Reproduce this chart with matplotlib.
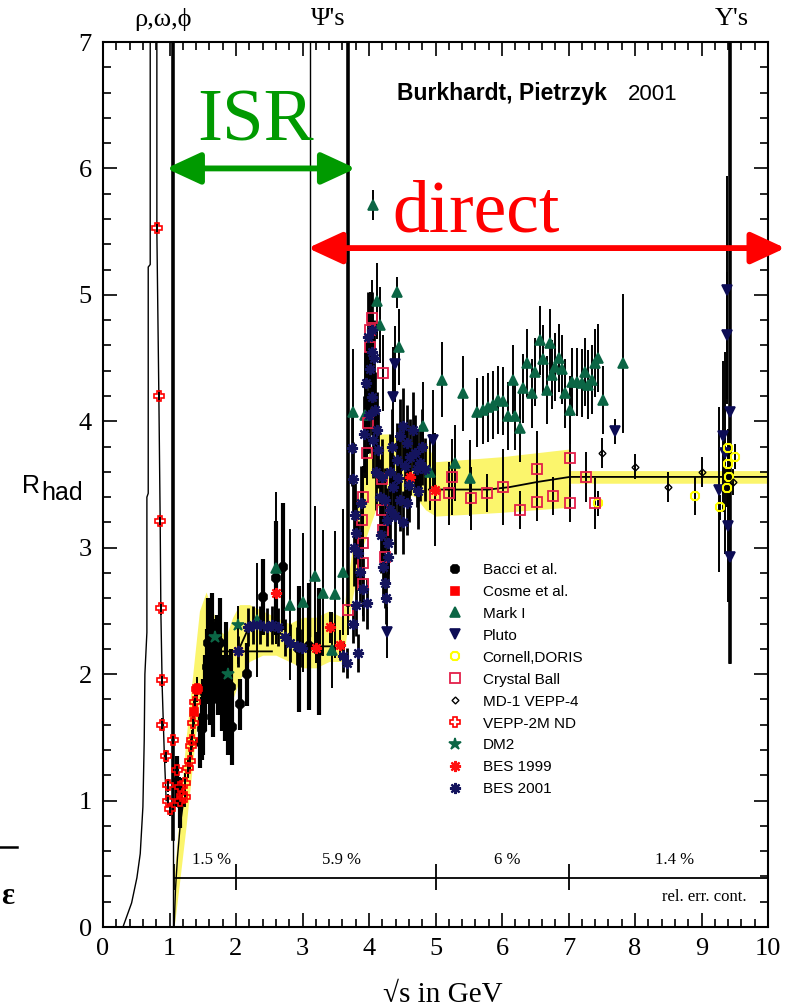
import matplotlib
matplotlib.use("Agg")
import matplotlib.pyplot as plt
import numpy as np
from matplotlib.lines import Line2D
from matplotlib.patches import FancyArrowPatch

SERIF = ['Liberation Serif', 'DejaVu Serif']
SANS = ['Liberation Sans', 'DejaVu Sans']

# measurements: (sqrt(s) in GeV, R_had, error)
bacci = [(1.11, 1.15, 0.2), (1.16, 0.98, 0.2), (1.46, 1.46, 0.2), (1.49, 1.57, 0.25),
         (1.50, 1.66, 0.3), (1.53, 1.85, 0.3), (1.56, 2.06, 0.3), (1.58, 2.25, 0.35),
         (1.61, 1.90, 0.3), (1.64, 2.29, 0.35), (1.66, 1.80, 0.3), (1.69, 2.11, 0.3),
         (1.71, 2.17, 0.3), (1.73, 1.98, 0.3), (1.76, 2.25, 0.35), (1.79, 1.85, 0.3),
         (1.83, 1.77, 0.3), (1.85, 2.06, 0.35), (1.88, 1.66, 0.3), (1.92, 1.90, 0.3),
         (1.94, 1.58, 0.3), (2.06, 1.76, 0.2), (2.16, 2.00, 0.25), (2.41, 2.61, 0.3),
         (2.60, 2.76, 0.45), (2.71, 2.85, 0.5), (2.95, 2.20, 0.5), (3.10, 2.22, 0.5),
         (3.25, 2.18, 0.5)]
cosme = [(1.37, 1.70, 0.1), (1.42, 1.88, 0.1)]
mark1 = [(2.31, 2.43, 0.45), (2.60, 2.84, 0.6), (2.81, 2.55, 0.6), (3.01, 2.57, 0.55),
         (3.19, 2.78, 0.55), (3.31, 2.64, 0.5), (3.44, 2.19, 0.3), (3.49, 2.63, 0.5),
         (3.61, 2.81, 0.5), (3.76, 4.07, 0.5), (3.94, 4.05, 0.5), (4.06, 5.71, 0.12),
         (4.12, 4.95, 0.3), (4.17, 4.76, 0.3), (4.42, 5.02, 0.12), (4.45, 4.59, 0.3),
         (4.81, 3.96, 0.35), (4.92, 3.60, 0.3), (5.10, 4.33, 0.3), (5.29, 3.67, 0.3),
         (5.41, 4.22, 0.3), (5.52, 3.55, 0.3), (5.62, 4.07, 0.27), (5.72, 4.09, 0.27),
         (5.79, 4.11, 0.27), (5.87, 4.13, 0.27), (5.94, 4.17, 0.27), (6.02, 4.16, 0.27),
         (6.09, 4.04, 0.27), (6.17, 4.33, 0.27), (6.20, 4.04, 0.27), (6.27, 3.95, 0.27),
         (6.32, 4.26, 0.27), (6.38, 4.46, 0.27), (6.45, 4.22, 0.27), (6.50, 4.39, 0.27),
         (6.57, 4.64, 0.27), (6.62, 4.49, 0.27), (6.68, 4.25, 0.27), (6.72, 4.62, 0.27),
         (6.75, 4.37, 0.27), (6.80, 4.43, 0.27), (6.85, 4.50, 0.27), (6.90, 4.41, 0.27),
         (6.95, 4.22, 0.27), (7.02, 4.09, 0.27), (7.05, 4.31, 0.27), (7.13, 4.31, 0.27),
         (7.20, 4.30, 0.27), (7.25, 4.39, 0.27), (7.29, 4.29, 0.27), (7.35, 4.33, 0.27),
         (7.40, 4.46, 0.27), (7.44, 4.50, 0.27), (7.52, 4.17, 0.27), (7.82, 4.46, 0.55)]
pluto = [(4.27, 2.33, 0.2), (4.36, 4.19, 0.4), (4.39, 4.45, 0.3), (4.96, 3.85, 0.4),
         (7.70, 3.92, 0.1), (9.26, 3.46, 0.65), (9.32, 3.88, 0.6), (9.36, 3.75, 0.8),
         (9.38, 5.04, 0.9), (9.38, 4.68, 0.5), (9.40, 3.17, 0.6), (9.43, 4.07, 0.5),
         (9.43, 2.93, 0.85)]
cornell = [(7.44, 3.35, 0.1), (8.90, 3.41, 0.15), (9.28, 3.32, 0.1), (9.38, 3.47, 0.15),
           (9.40, 3.79, 0.15), (9.40, 3.66, 0.1), (9.41, 3.56, 0.1), (9.50, 3.72, 0.1)]
crystal = [(3.68, 2.51, 0.2), (3.89, 3.22, 0.25), (3.91, 3.04, 0.25), (3.91, 2.88, 0.25),
           (3.91, 2.71, 0.25), (3.91, 3.40, 0.25), (3.97, 3.75, 0.25), (3.98, 3.99, 0.25),
           (4.02, 4.59, 0.3), (4.02, 4.72, 0.3), (4.04, 4.82, 0.3), (4.19, 3.54, 0.25),
           (4.19, 3.30, 0.25), (4.21, 3.14, 0.25), (4.21, 4.38, 0.3), (4.24, 2.93, 0.25),
           (4.99, 3.42, 0.2), (5.20, 3.43, 0.25), (5.25, 3.56, 0.3), (5.53, 3.39, 0.25),
           (5.77, 3.43, 0.15), (6.02, 3.48, 0.3), (6.27, 3.30, 0.15), (6.53, 3.62, 0.3),
           (6.53, 3.36, 0.15), (6.77, 3.41, 0.15), (7.02, 3.71, 0.3), (7.02, 3.35, 0.15),
           (7.26, 3.56, 0.2), (7.40, 3.35, 0.2)]
md1 = [(7.50, 3.75, 0.12), (8.00, 3.64, 0.1), (8.50, 3.48, 0.12), (9.00, 3.60, 0.12),
       (9.47, 3.52, 0.1)]
vepp2m = [(0.81, 5.53, 0.05), (0.84, 4.20, 0.05), (0.85, 3.21, 0.05), (0.87, 2.52, 0.05),
          (0.89, 1.95, 0.05), (0.89, 1.60, 0.05), (0.95, 1.35, 0.05), (0.97, 1.12, 0.05),
          (0.97, 1.00, 0.05), (1.00, 0.93, 0.05), (1.05, 1.48, 0.05), (1.11, 1.24, 0.08),
          (1.16, 1.11, 0.08), (1.16, 1.00, 0.08), (1.19, 1.04, 0.08), (1.23, 1.14, 0.08),
          (1.23, 1.03, 0.08), (1.28, 1.26, 0.08), (1.31, 1.31, 0.08), (1.32, 1.43, 0.08),
          (1.34, 1.48, 0.08), (1.35, 1.61, 0.08), (1.38, 1.78, 0.08), (1.41, 1.88, 0.08)]
dm2 = [(1.69, 2.29, 0.15), (1.88, 2.00, 0.15), (2.03, 2.39, 0.15)]
bes99 = [(2.03, 2.18, 0.1), (2.60, 2.64, 0.15), (3.21, 2.21, 0.12), (3.41, 2.37, 0.12),
         (3.56, 2.23, 0.12), (4.62, 3.56, 0.15), (4.99, 3.46, 0.45)]
bes01 = [(2.03, 2.18, 0.12), (2.18, 2.37, 0.15), (2.26, 2.39, 0.15), (2.36, 2.39, 0.15),
         (2.46, 2.37, 0.15), (2.54, 2.39, 0.15), (2.63, 2.37, 0.15), (2.74, 2.29, 0.15),
         (2.81, 2.25, 0.15), (2.91, 2.22, 0.15), (2.99, 2.21, 0.15), (3.61, 2.14, 0.12),
         (3.67, 2.09, 0.12), (3.74, 3.79, 0.3), (3.76, 3.54, 0.3), (3.76, 2.40, 0.15),
         (3.78, 3.00, 0.3), (3.79, 3.26, 0.25), (3.80, 2.55, 0.25), (3.81, 3.12, 0.25),
         (3.84, 2.96, 0.25), (3.84, 2.17, 0.15), (3.86, 2.81, 0.25), (3.88, 3.35, 0.3),
         (3.91, 2.67, 0.25), (3.93, 3.90, 0.3), (3.95, 4.30, 0.35), (3.97, 2.56, 0.2),
         (3.98, 4.67, 0.35), (4.00, 4.05, 0.3), (4.02, 4.41, 0.3), (4.04, 4.19, 0.3),
         (4.04, 4.55, 0.3), (4.04, 4.72, 0.3), (4.06, 3.85, 0.3), (4.08, 4.50, 0.3),
         (4.09, 4.09, 0.3), (4.10, 3.60, 0.3), (4.12, 3.93, 0.3), (4.14, 3.77, 0.3),
         (4.16, 3.40, 0.3), (4.18, 3.10, 0.3), (4.19, 3.56, 0.3), (4.21, 2.85, 0.25),
         (4.24, 3.38, 0.25), (4.24, 2.72, 0.2), (4.26, 2.60, 0.2), (4.27, 3.22, 0.25),
         (4.29, 3.04, 0.25), (4.29, 2.93, 0.2), (4.31, 3.60, 0.3), (4.32, 3.30, 0.25),
         (4.34, 3.80, 0.3), (4.36, 3.48, 0.25), (4.39, 3.25, 0.3), (4.42, 3.69, 0.3),
         (4.44, 3.55, 0.3), (4.47, 3.88, 0.3), (4.47, 3.38, 0.25), (4.51, 3.96, 0.3),
         (4.51, 3.20, 0.25), (4.54, 3.65, 0.3), (4.57, 3.83, 0.3), (4.57, 3.35, 0.25),
         (4.60, 3.50, 0.3), (4.62, 3.72, 0.3), (4.66, 3.93, 0.3), (4.69, 3.75, 0.3),
         (4.72, 3.62, 0.3), (4.74, 3.45, 0.3), (4.77, 3.67, 0.3), (4.80, 3.80, 0.3),
         (4.84, 3.62, 0.25)]

# continuum parametrisation with its error band
band_x = [1.07, 1.15, 1.25, 1.35, 1.45, 1.55, 1.65, 1.75, 1.85, 1.95, 2.05, 2.2, 2.4,
          2.6, 2.8, 3.0, 3.2, 3.4, 3.6, 3.75, 3.9, 4.1, 4.3, 4.5, 4.7, 4.85, 5.0, 6.0,
          7.0, 7.01, 8.0, 9.0, 10.0]
band_lo = [0.0, 0.35, 0.8, 1.3, 1.8, 1.95, 1.85, 1.75, 1.75, 1.8, 1.95, 2.1, 2.15,
           2.15, 2.1, 2.05, 2.05, 2.1, 2.1, 2.6, 3.0, 3.3, 3.4, 3.45, 3.4, 3.3, 3.25,
           3.28, 3.32, 3.51, 3.51, 3.51, 3.51]
band_hi = [0.4, 0.9, 1.5, 2.0, 2.5, 2.65, 2.5, 2.35, 2.3, 2.45, 2.55, 2.55, 2.5,
           2.45, 2.4, 2.45, 2.45, 2.5, 2.45, 3.0, 3.6, 3.9, 3.9, 3.85, 3.85, 3.85, 3.68,
           3.72, 3.78, 3.61, 3.61, 3.61, 3.61]
cont_x = [1.79, 2.54, np.nan, 2.03, 2.21, 2.55, 2.80, 3.00, 3.60, np.nan,
          4.90, 5.80, 6.12, 6.53, 7.02, 10.0]
cont_y = [2.18, 2.18, np.nan, 2.18, 2.39, 2.39, 2.25, 2.22, 2.22, np.nan,
          3.46, 3.46, 3.48, 3.52, 3.56, 3.56]

# resonance shapes at low energy
rho_x = [0.30, 0.43, 0.51, 0.56, 0.60, 0.62, 0.63, 0.66, 0.66, 0.68, 0.68, 0.71, 0.71]
rho_y = [0.0, 0.19, 0.39, 0.58, 0.95, 1.48, 2.0, 2.33, 3.4, 3.43, 5.22, 5.24, 7.0]
omega_x = [0.81, 0.81, 0.84, 0.86, 0.87, 0.89, 0.92, 0.95]
omega_y = [7.0, 5.5, 4.2, 3.2, 2.5, 1.9, 1.4, 1.0]
phi_x = [1.07, 1.09, 1.12, 1.16, 1.20]
phi_y = [0.0, 0.3, 0.55, 0.8, 0.95]

# narrow resonances: (position, lower end, upper end)
thick_lines = [(1.05, 0.70, 7.0), (3.68, 2.55, 7.0), (9.43, 2.10, 7.0)]
thin_lines = [(1.05, 0.0, 0.70), (3.11, 2.30, 7.0)]

# relative error of the continuum per energy range
relerr_edges = [1.07, 2.0, 5.0, 7.0]
relerr_labels = ['1.5 %', '5.9 %', '6 %', '1.4 %']
relerr_label_x = [1.64, 3.59, 6.08, 8.60]

fig = plt.figure(figsize=(7.86, 10.08), dpi=100)
ax = fig.add_axes([103 / 786, 81 / 1008, 665 / 786, 885 / 1008])
ax.set_xlim(0, 10)
ax.set_ylim(0, 7)

ax.fill_between(band_x, band_lo, band_hi, color='#fbf56c', lw=0, zorder=1)
ax.plot(cont_x, cont_y, color='black', lw=1.3, zorder=2)
for cx, cy in [(rho_x, rho_y), (omega_x, omega_y), (phi_x, phi_y)]:
    ax.plot(cx, cy, color='black', lw=1.0, zorder=2)
for xr, y0, y1 in thick_lines:
    ax.plot([xr, xr], [y0, y1], color='black', lw=2.6, zorder=2)
for xr, y0, y1 in thin_lines:
    ax.plot([xr, xr], [y0, y1], color='black', lw=1.0, zorder=2)


def plot_set(data, marker, color, ms, filled=True, elw=1.4, mew=1.2):
    x, y, e = np.array(data).T
    ax.errorbar(x, y, yerr=e, fmt='none', ecolor='black', elinewidth=elw,
                capsize=0, zorder=3)
    ax.plot(x, y, ls='none', marker=marker, ms=ms, mec=color, mew=mew,
            mfc=color if filled else 'none', zorder=4)
    return Line2D([], [], ls='none', marker=marker, ms=ms, mec=color, mew=mew,
                  mfc=color if filled else 'none')


asterisk = (8, 2, 0)
handles = [
    plot_set(bacci, '8', 'black', 7, elw=3.0),
    plot_set(cosme, 's', '#ff0000', 6),
    plot_set(mark1, '^', '#0b6645', 7),
    plot_set(pluto, 'v', '#0c0c55', 7),
    plot_set(cornell, '8', '#ffff00', 7, filled=False, mew=1.5),
    plot_set(crystal, 's', '#e3204a', 7, filled=False, mew=1.3),
    plot_set(md1, 'D', 'black', 3.5, filled=False, mew=1.0),
    plot_set(vepp2m, 'P', '#ff0000', 7, filled=False, mew=1.2),
    plot_set(dm2, '*', '#0b6645', 9),
    plot_set(bes99, asterisk, '#ff1010', 8, mew=1.6),
    plot_set(bes01, asterisk, '#14145e', 8, elw=2.0, mew=1.6),
]
labels = ['Bacci et al.', 'Cosme et al.', 'Mark I', 'Pluto', 'Cornell,DORIS',
          'Crystal Ball', 'MD-1 VEPP-4', 'VEPP-2M ND', 'DM2', 'BES 1999', 'BES 2001']
ax.legend(handles, labels, loc='upper left', bbox_to_anchor=(0.495, 0.42),
          frameon=False, borderpad=0, handlelength=2.0, handletextpad=0.8,
          labelspacing=0.52, prop={'family': SANS, 'size': 11})

# relative error line at the bottom
ax.hlines(0.39, relerr_edges[0], 10, color='black', lw=1.3, zorder=2)
ax.vlines(relerr_edges, 0.29, 0.50, color='black', lw=1.3, zorder=2)
for lx, lab in zip(relerr_label_x, relerr_labels):
    ax.text(lx, 0.53, lab, ha='center', va='center', fontsize=12, family=SERIF)
ax.text(9.68, 0.24, 'rel. err. cont.', ha='right', va='center', fontsize=12,
        family=SERIF)

ax.text(4.42, 6.54, 'Burkhardt, Pietrzyk', ha='left', va='baseline', fontsize=16.5,
        family=SANS, weight='bold')
ax.text(7.89, 6.54, '2001', ha='left', va='baseline', fontsize=16, family=SANS)

# resonance names above the frame
for rx, name in [(0.90, 'ρ,ω,ϕ'), (3.38, "Ψ's"), (9.46, "Υ's")]:
    ax.text(rx, 7.18, name, ha='center', va='center', fontsize=19, family=SERIF,
            clip_on=False)

# ISR / direct ranges
ax.add_patch(FancyArrowPatch((0.95, 6.0), (3.80, 6.0),
                             arrowstyle='<|-|>,head_length=1.3,head_width=0.6',
                             mutation_scale=16, color='#009a00', lw=4.2,
                             shrinkA=0, shrinkB=0, clip_on=False, zorder=6))
ax.add_patch(FancyArrowPatch((3.08, 5.37), (10.26, 5.37),
                             arrowstyle='<|-|>,head_length=1.3,head_width=0.6',
                             mutation_scale=16, color='#ff0000', lw=4.2,
                             shrinkA=0, shrinkB=0, clip_on=False, zorder=6))
ax.text(2.29, 6.22, 'ISR', ha='center', va='baseline', fontsize=54,
        color='#009a00', family=SERIF, zorder=6)
ax.text(4.35, 5.50, 'direct', ha='left', va='baseline', fontsize=53,
        color='#ff0000', family=SERIF, zorder=6)

ax.set_xticks(range(0, 11))
ax.set_yticks(range(0, 8))
ax.set_xticks(np.arange(0, 10.01, 0.2), minor=True)
ax.set_yticks(np.arange(0, 7.01, 0.2), minor=True)
ax.tick_params(which='both', direction='in', top=True, right=True, width=1.2)
ax.tick_params(which='major', length=10, pad=8, labelsize=19)
ax.tick_params(which='minor', length=6)
for lab in ax.get_xticklabels() + ax.get_yticklabels():
    lab.set_family(SERIF)
for sp in ax.spines.values():
    sp.set_linewidth(1.5)

fig.text(443 / 786, 1 - 995 / 1008, '√s in GeV', ha='center', va='center',
         fontsize=21, family=SERIF)
fig.text(22 / 786, 1 - 493 / 1008, 'R', ha='left', va='baseline', fontsize=18,
         family=SANS)
fig.text(41 / 786, 1 - 500 / 1008, 'had', ha='left', va='baseline', fontsize=18,
         family=SANS)

# piece of the neighbouring formula at the left edge
fig.add_artist(Line2D([0, 17 / 786], [1 - 847 / 1008] * 2, color='black', lw=1.8))
fig.text(0.001, 1 - 896 / 1008, 'ε', ha='left', va='center', fontsize=22,
         weight='bold', family=SERIF)

fig.savefig('out.png', dpi=100)
